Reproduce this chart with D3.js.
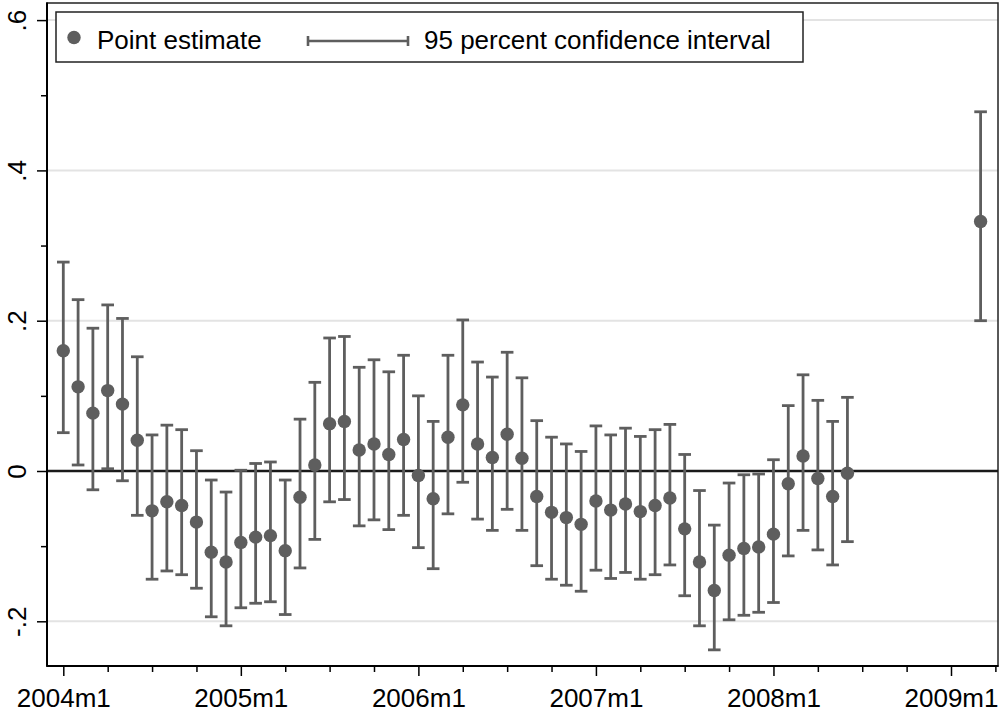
<!DOCTYPE html>
<html>
<head>
<meta charset="utf-8">
<script src="https://cdn.jsdelivr.net/npm/d3@7"></script>
<style>
  body { margin: 0; background: #fff; }
  svg { display: block; font-family: 'Liberation Sans', Arial, sans-serif; }
</style>
</head>
<body>
<svg id="chart" width="1000" height="715"></svg>
<script>
const periods = [
  '2004m1', '2004m2', '2004m3', '2004m4', '2004m5', '2004m6', '2004m7', '2004m8', '2004m9', '2004m10', '2004m11', '2004m12',
  '2005m1', '2005m2', '2005m3', '2005m4', '2005m5', '2005m6', '2005m7', '2005m8', '2005m9', '2005m10', '2005m11', '2005m12',
  '2006m1', '2006m2', '2006m3', '2006m4', '2006m5', '2006m6', '2006m7', '2006m8', '2006m9', '2006m10', '2006m11', '2006m12',
  '2007m1', '2007m2', '2007m3', '2007m4', '2007m5', '2007m6', '2007m7', '2007m8', '2007m9', '2007m10', '2007m11', '2007m12',
  '2008m1', '2008m2', '2008m3', '2008m4', '2008m5', '2008m6',
  '2009m3'
];

const estimates = [
  0.160, 0.112, 0.077, 0.107, 0.089, 0.041, -0.053, -0.041, -0.046, -0.068, -0.108, -0.121,
  -0.095, -0.088, -0.086, -0.106, -0.035, 0.008, 0.063, 0.066, 0.028, 0.036, 0.022, 0.042,
  -0.006, -0.037, 0.045, 0.088, 0.036, 0.018, 0.049, 0.017, -0.034, -0.055, -0.062, -0.071,
  -0.040, -0.052, -0.044, -0.054, -0.046, -0.036, -0.077, -0.121, -0.159, -0.112, -0.103, -0.101,
  -0.084, -0.017, 0.020, -0.010, -0.034, -0.003,
  0.332
];

const ciUpper = [
  0.278, 0.228, 0.190, 0.221, 0.203, 0.152, 0.048, 0.061, 0.055, 0.027, -0.012, -0.028,
  0.001, 0.010, 0.012, -0.012, 0.069, 0.118, 0.177, 0.179, 0.138, 0.148, 0.132, 0.154,
  0.100, 0.066, 0.154, 0.201, 0.145, 0.125, 0.158, 0.124, 0.067, 0.045, 0.036, 0.026,
  0.060, 0.048, 0.057, 0.046, 0.055, 0.062, 0.022, -0.026, -0.072, -0.016, -0.005, -0.004,
  0.015, 0.087, 0.128, 0.094, 0.066, 0.098,
  0.478
];

const ciLower = [
  0.051, 0.008, -0.025, 0.003, -0.013, -0.059, -0.144, -0.133, -0.138, -0.156, -0.194, -0.206,
  -0.182, -0.176, -0.174, -0.191, -0.129, -0.091, -0.041, -0.038, -0.073, -0.065, -0.078, -0.059,
  -0.102, -0.130, -0.057, -0.015, -0.064, -0.079, -0.051, -0.079, -0.126, -0.144, -0.152, -0.160,
  -0.132, -0.143, -0.135, -0.144, -0.138, -0.125, -0.166, -0.206, -0.238, -0.198, -0.192, -0.188,
  -0.175, -0.113, -0.079, -0.105, -0.125, -0.094,
  0.200
];

const xTickLabels = ['2004m1', '2005m1', '2006m1', '2007m1', '2008m1', '2009m1'];
const xMinorLabels = [
  '2004m4', '2004m7', '2004m10', '2005m4', '2005m7', '2005m10', '2006m4', '2006m7', '2006m10',
  '2007m4', '2007m7', '2007m10', '2008m4', '2008m7', '2008m10', '2009m4'
];
const yTicks = [-0.2, 0, 0.2, 0.4, 0.6];
const yTickLabels = ['-.2', '0', '.2', '.4', '.6'];
const yMinorTicks = [-0.1, 0.1, 0.3, 0.5];
const legendLabels = ['Point estimate', '95 percent confidence interval'];

const toMonth = (p) => {
  const [yr, mo] = p.split('m').map(Number);
  return yr * 12 + mo - 1;
};

const data = periods.map((p, i) => ({
  month: toMonth(p),
  est: estimates[i],
  lo: ciLower[i],
  hi: ciUpper[i],
}));

const plotLeft = 47;
const plotRight = 998;
const plotTop = 3;
const plotBottom = 666;
const ink = '#5e5e5e';
const fontSize = 26;

const xscale = d3.scaleLinear()
  .domain([toMonth('2004m1'), toMonth('2009m1')])
  .range([63.3, 951]);

const yscale = d3.scaleLinear()
  .domain([-0.2, 0.6])
  .range([621.3, 20.1]);

const svg = d3.select('#chart');

// grid lines
svg.append('g')
  .selectAll('line')
  .data(yTicks.filter((d) => d !== 0))
  .enter()
  .append('line')
  .attr('x1', plotLeft)
  .attr('x2', plotRight)
  .attr('y1', (d) => yscale(d))
  .attr('y2', (d) => yscale(d))
  .attr('stroke', '#e3e3e3')
  .attr('stroke-width', 2);

// plot region frame
svg.append('rect')
  .attr('x', plotLeft)
  .attr('y', plotTop)
  .attr('width', plotRight - plotLeft)
  .attr('height', plotBottom - plotTop)
  .attr('fill', 'none')
  .attr('stroke', '#222')
  .attr('stroke-width', 1.5);

svg.append('line')
  .attr('x1', plotLeft)
  .attr('x2', plotRight)
  .attr('y1', yscale(0))
  .attr('y2', yscale(0))
  .attr('stroke', '#1a1a1a')
  .attr('stroke-width', 2.4);

// x axis
const bottomAxis = d3.axisBottom(xscale)
  .tickValues(xTickLabels.map(toMonth))
  .tickFormat((d, i) => xTickLabels[i])
  .tickSize(10)
  .tickSizeOuter(0);

const xAxisG = svg.append('g')
  .attr('transform', `translate(0, ${plotBottom})`)
  .call(bottomAxis);

xAxisG.select('.domain').remove();
xAxisG.selectAll('line').attr('stroke', '#000').attr('stroke-width', 1.5);
xAxisG.selectAll('text')
  .attr('y', 41)
  .attr('dy', 0)
  .attr('fill', '#000')
  .style('font-size', `${fontSize}px`)
  .style('font-family', "'Liberation Sans', Arial, sans-serif");

svg.append('g')
  .attr('transform', `translate(0, ${plotBottom})`)
  .call(d3.axisBottom(xscale).tickValues(xMinorLabels.map(toMonth)).tickFormat('').tickSize(6).tickSizeOuter(0))
  .call((g) => g.select('.domain').remove())
  .selectAll('line').attr('stroke', '#000').attr('stroke-width', 1.5);

svg.append('line')
  .attr('x1', plotLeft - 0.5)
  .attr('x2', plotRight + 0.5)
  .attr('y1', plotBottom)
  .attr('y2', plotBottom)
  .attr('stroke', '#000')
  .attr('stroke-width', 2);

// y axis
const leftAxis = d3.axisLeft(yscale)
  .tickValues(yTicks)
  .tickFormat((d, i) => yTickLabels[i])
  .tickSize(10)
  .tickSizeOuter(0);

const yAxisG = svg.append('g')
  .attr('transform', `translate(${plotLeft}, 0)`)
  .call(leftAxis);

yAxisG.select('.domain').remove();
yAxisG.selectAll('line').attr('stroke', '#000').attr('stroke-width', 1.5);
yAxisG.selectAll('text')
  .attr('x', 0)
  .attr('dy', 0)
  .attr('text-anchor', 'middle')
  .attr('transform', 'translate(-21, 0) rotate(-90)')
  .attr('fill', '#000')
  .style('font-size', `${fontSize}px`)
  .style('font-family', "'Liberation Sans', Arial, sans-serif");

svg.append('g')
  .attr('transform', `translate(${plotLeft}, 0)`)
  .call(d3.axisLeft(yscale).tickValues(yMinorTicks).tickFormat('').tickSize(6).tickSizeOuter(0))
  .call((g) => g.select('.domain').remove())
  .selectAll('line').attr('stroke', '#000').attr('stroke-width', 1.5);

svg.append('line')
  .attr('x1', plotLeft)
  .attr('x2', plotLeft)
  .attr('y1', plotTop - 0.5)
  .attr('y2', plotBottom + 0.5)
  .attr('stroke', '#000')
  .attr('stroke-width', 2);

// confidence intervals
const capHalf = 6.3;
const bars = svg.append('g')
  .attr('stroke', ink)
  .attr('stroke-width', 2.8);

bars.selectAll('line.whisker')
  .data(data)
  .enter()
  .append('line')
  .attr('class', 'whisker')
  .attr('x1', (d) => xscale(d.month))
  .attr('x2', (d) => xscale(d.month))
  .attr('y1', (d) => yscale(d.lo))
  .attr('y2', (d) => yscale(d.hi));

bars.selectAll('line.capHi')
  .data(data)
  .enter()
  .append('line')
  .attr('class', 'capHi')
  .attr('x1', (d) => xscale(d.month) - capHalf)
  .attr('x2', (d) => xscale(d.month) + capHalf)
  .attr('y1', (d) => yscale(d.hi))
  .attr('y2', (d) => yscale(d.hi));

bars.selectAll('line.capLo')
  .data(data)
  .enter()
  .append('line')
  .attr('class', 'capLo')
  .attr('x1', (d) => xscale(d.month) - capHalf)
  .attr('x2', (d) => xscale(d.month) + capHalf)
  .attr('y1', (d) => yscale(d.lo))
  .attr('y2', (d) => yscale(d.lo));

svg.append('g')
  .selectAll('circle')
  .data(data)
  .enter()
  .append('circle')
  .attr('cx', (d) => xscale(d.month))
  .attr('cy', (d) => yscale(d.est))
  .attr('r', 6.7)
  .attr('fill', ink);

// legend
const legend = svg.append('g');

legend.append('rect')
  .attr('x', 56)
  .attr('y', 12)
  .attr('width', 747)
  .attr('height', 50)
  .attr('fill', '#fff')
  .attr('stroke', '#222')
  .attr('stroke-width', 1.5);

legend.append('circle')
  .attr('cx', 74)
  .attr('cy', 37.5)
  .attr('r', 6.7)
  .attr('fill', ink);

const ciKey = legend.append('g')
  .attr('stroke', ink)
  .attr('stroke-width', 2.6);

ciKey.append('line').attr('x1', 308).attr('x2', 408).attr('y1', 41).attr('y2', 41);
ciKey.append('line').attr('x1', 308).attr('x2', 308).attr('y1', 36).attr('y2', 46);
ciKey.append('line').attr('x1', 408).attr('x2', 408).attr('y1', 36).attr('y2', 46);

legend.selectAll('text')
  .data(legendLabels)
  .enter()
  .append('text')
  .text((d) => d)
  .attr('x', (d, i) => (i === 0 ? 97 : 424))
  .attr('y', 49)
  .attr('fill', '#000')
  .style('font-size', `${fontSize}px`);
</script>
</body>
</html>
